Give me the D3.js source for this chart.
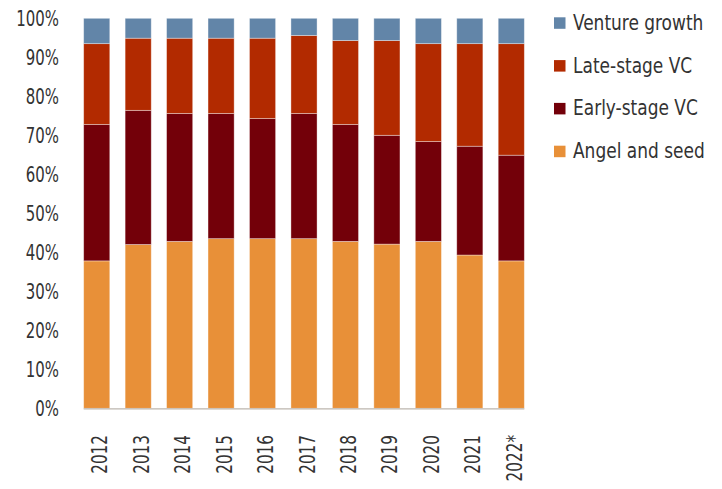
<!DOCTYPE html>
<meta charset="utf-8">
<script src="https://d3js.org/d3.v7.min.js"></script>
<style>
    body { margin: 0; background: #fff; }
    text { font-family: 'Liberation Sans Narrow', 'DejaVu Sans Condensed', 'Roboto', sans-serif; fill: #333; }
</style>
<div id="chart"></div>
<script>
    // data (percent share of deal value)
    const years = ["2012", "2013", "2014", "2015", "2016", "2017", "2018", "2019", "2020", "2021", "2022*"];
    const seriesNames = ["Angel and seed", "Early-stage VC", "Late-stage VC", "Venture growth"];
    const angelSeed   = [37.8, 42.0, 42.8, 43.5, 43.5, 43.5, 42.8, 42.1, 42.8, 39.3, 37.8];
    const earlyVC     = [35.0, 34.4, 32.8, 32.1, 30.8, 32.1, 30.0, 27.9, 25.6, 27.9, 27.1];
    const lateVC      = [20.7, 18.5, 19.3, 19.3, 20.6, 20.0, 21.5, 24.3, 25.1, 26.3, 28.6];
    const growth      = [6.5, 5.1, 5.1, 5.1, 5.1, 4.4, 5.7, 5.7, 6.5, 6.5, 6.5];
    const yTicks = [0, 10, 20, 30, 40, 50, 60, 70, 80, 90, 100];
    const colors = ["#e89038", "#730009", "#b22a00", "#6285a8"];

    const width = 722, height = 489;

    let rows = years.map(function (y, i) {
        return {year: y, "Angel and seed": angelSeed[i], "Early-stage VC": earlyVC[i],
            "Late-stage VC": lateVC[i], "Venture growth": growth[i]};
    });

    let svg = d3.select("#chart").append("svg")
        .attr("width", width)
        .attr("height", height);

    let x = d3.scaleBand()
        .domain(years)
        .range([76, 532])
        .paddingInner(0.37)
        .paddingOuter(0.185);

    let y = d3.scaleLinear()
        .domain([0, 100])
        .range([408.3, 18.3]);

    let layers = d3.stack().keys(seriesNames)(rows);

    // bars
    svg.selectAll("g.layer")
        .data(layers)
        .enter().append("g")
        .attr("class", "layer")
        .attr("fill", function (d, i) { return colors[i]; })
        .selectAll("rect")
        .data(function (d) { return d; })
        .enter().append("rect")
        .attr("x", function (d) { return x(d.data.year); })
        .attr("width", x.bandwidth())
        .attr("y", function (d) { return y(d[1]); })
        .attr("height", function (d) { return y(d[0]) - y(d[1]); })
        .attr("stroke", "rgba(255,255,255,0.45)")
        .attr("stroke-width", 0.8);

    // baseline
    svg.append("line")
        .attr("x1", x(years[0])).attr("x2", x(years[years.length - 1]) + x.bandwidth())
        .attr("y1", y(0) + 0.5).attr("y2", y(0) + 0.5)
        .attr("stroke", "#bcb6ae")
        .attr("stroke-width", 1.2);

    // y tick labels (squeezed horizontally to mimic the condensed face)
    svg.selectAll("text.ytick")
        .data(yTicks)
        .enter().append("text")
        .attr("class", "ytick")
        .attr("transform", function (d) { return "translate(59," + y(d) + ") scale(0.79,1)"; })
        .attr("dy", "0.36em")
        .attr("text-anchor", "end")
        .style("font-size", "21px")
        .text(function (d) { return d + "%"; });

    // x labels, rotated
    svg.selectAll("text.xtick")
        .data(years)
        .enter().append("text")
        .attr("class", "xtick")
        .attr("transform", function (d) {
            return "translate(" + (x(d) + x.bandwidth() / 2 + 10.5) + ",435) rotate(-90) scale(0.77,1)";
        })
        .attr("text-anchor", "end")
        .style("font-size", "22px")
        .text(function (d) { return d; });

    // legend (top item = Venture growth)
    let legend = svg.selectAll("g.legend")
        .data(seriesNames.slice().reverse())
        .enter().append("g")
        .attr("class", "legend")
        .attr("transform", function (d, i) { return "translate(554," + (17.3 + i * 42.8) + ")"; });

    legend.append("rect")
        .attr("width", 11.5)
        .attr("height", 11.5)
        .attr("fill", function (d) { return colors[seriesNames.indexOf(d)]; });

    legend.append("text")
        .attr("transform", "translate(19,12.5) scale(0.9,1)")
        .style("font-size", "21px")
        .text(function (d) { return d; });
</script>
